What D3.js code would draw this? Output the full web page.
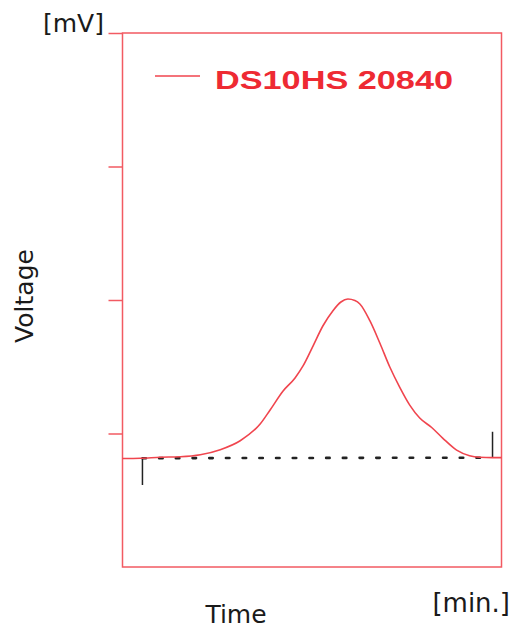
<!DOCTYPE html>
<html>
<head>
<meta charset="utf-8">
<script src="https://cdn.jsdelivr.net/npm/d3@7"></script>
<style>
  body { margin: 0; background: #fff; }
  text { font-family: "DejaVu Sans", sans-serif; }
</style>
</head>
<body>
<div id="chart"></div>
<script>
// Data (time in min, voltage in mV)
var times = [0, 1.8, 3.8, 5.8, 7.8, 9.8, 11.8, 13.8, 14.8, 16.1, 17.3, 18.1, 19.1, 20.1,
  21.1, 21.9, 22.6, 23.3, 23.8, 24.8, 25.8, 26.8, 27.8, 28.8, 29.8, 31.0, 32.1, 33.5,
  34.8, 35.8, 37.1, 38];
var voltages = [81.3, 81.5, 82.2, 82.6, 84.1, 87.9, 94.6, 107.1, 117.6, 131.8, 141.6, 150.6,
  165.5, 180.7, 192.0, 198.5, 200.7, 199.6, 197.0, 184.5, 167.8, 149.8, 134.6, 121.3, 111.6,
  104.5, 96.6, 87.6, 83.4, 82.2, 81.9, 81.9];
var seriesName = "DS10HS 20840";
var yTicks = [100, 200, 300, 400];

// baseline and integration marks
var baseStart = [2.0, 81.5];
var baseEnd = [37.1, 81.9];
var startMark = [61.4, 81.5];
var endMark = [81.9, 101.3];

var w = 512;
var h = 630;
var margin = { left: 122.5, right: 10.5, top: 33, bottom: 63 };

var lineColor = "#f0454e";
var frameColor = "#f25a62";

var svg = d3
  .select("#chart")
  .append("svg")
  .attr("width", w)
  .attr("height", h);

var xScale = d3
  .scaleLinear()
  .domain([0, 38])
  .range([margin.left, w - margin.right]);

var yScale = d3
  .scaleLinear()
  .domain([0, 400])
  .range([h - margin.bottom, margin.top]);

// frame
svg
  .append("rect")
  .attr("x", xScale(0))
  .attr("y", yScale(400))
  .attr("width", xScale(38) - xScale(0))
  .attr("height", yScale(0) - yScale(400))
  .attr("fill", "none")
  .attr("stroke", frameColor)
  .attr("stroke-width", 1.5);

// y ticks, no labels
var yAxis = svg
  .append("g")
  .attr("transform", "translate(" + xScale(0) + ",0)")
  .call(d3.axisLeft(yScale).tickValues(yTicks).tickSize(14).tickFormat(""));
yAxis.select(".domain").remove();
yAxis.selectAll("line").attr("stroke", frameColor).attr("stroke-width", 1.5);

// dashed baseline
svg
  .append("line")
  .attr("x1", xScale(baseStart[0]))
  .attr("y1", yScale(baseStart[1]))
  .attr("x2", xScale(baseEnd[0]))
  .attr("y2", yScale(baseEnd[1]))
  .attr("stroke", "#222")
  .attr("stroke-width", 2.6)
  .attr("stroke-linecap", "round")
  .attr("stroke-dasharray", "3.5,13.2");

// start / end marks
svg
  .append("line")
  .attr("x1", xScale(baseStart[0]))
  .attr("x2", xScale(baseStart[0]))
  .attr("y1", yScale(startMark[0]))
  .attr("y2", yScale(startMark[1]))
  .attr("stroke", "#222")
  .attr("stroke-width", 1.5);

svg
  .append("line")
  .attr("x1", xScale(baseEnd[0]))
  .attr("x2", xScale(baseEnd[0]))
  .attr("y1", yScale(endMark[0]))
  .attr("y2", yScale(endMark[1]))
  .attr("stroke", "#222")
  .attr("stroke-width", 1.5);

// signal
var line = d3
  .line()
  .x(function (d, i) { return xScale(times[i]); })
  .y(function (d) { return yScale(d); })
  .curve(d3.curveMonotoneX);

svg
  .append("path")
  .datum(voltages)
  .attr("d", line)
  .attr("fill", "none")
  .attr("stroke", lineColor)
  .attr("stroke-width", 1.6);

// legend
svg
  .append("line")
  .attr("x1", 155)
  .attr("x2", 200)
  .attr("y1", 76)
  .attr("y2", 76)
  .attr("stroke", lineColor)
  .attr("stroke-width", 1.5);

svg
  .append("text")
  .attr("x", 215)
  .attr("y", 89)
  .attr("fill", "#ee2a33")
  .style("font-family", "'Liberation Sans', Arial, sans-serif")
  .attr("font-size", 26)
  .attr("font-weight", "bold")
  .attr("textLength", 238)
  .attr("lengthAdjust", "spacingAndGlyphs")
  .text(seriesName);

// axis labels
svg
  .append("text")
  .attr("x", 43)
  .attr("y", 32)
  .attr("fill", "#1a1a1a")
  .attr("font-size", 25)
  .text("[mV]");

svg
  .append("text")
  .attr("transform", "translate(33,296) rotate(-90)")
  .attr("text-anchor", "middle")
  .attr("fill", "#1a1a1a")
  .attr("font-size", 25)
  .text("Voltage");

svg
  .append("text")
  .attr("x", 236)
  .attr("y", 623)
  .attr("text-anchor", "middle")
  .attr("fill", "#1a1a1a")
  .attr("font-size", 25)
  .text("Time");

svg
  .append("text")
  .attr("x", 510)
  .attr("y", 612)
  .attr("text-anchor", "end")
  .attr("fill", "#1a1a1a")
  .attr("font-size", 26)
  .text("[min.]");
</script>
</body>
</html>
